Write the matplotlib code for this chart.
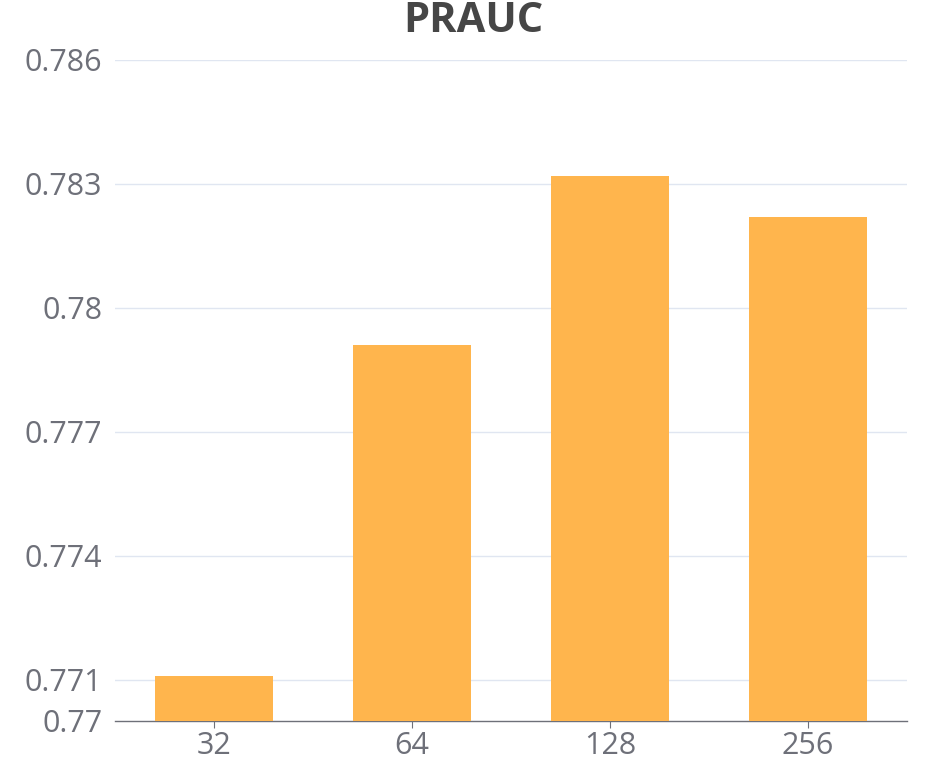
import matplotlib.pyplot as plt

# data
categories = ['32', '64', '128', '256']
prauc = [0.7711, 0.7791, 0.7832, 0.7822]
y_ticks = [0.77, 0.771, 0.774, 0.777, 0.78, 0.783, 0.786]
y_tick_labels = ['0.77', '0.771', '0.774', '0.777', '0.78', '0.783', '0.786']

plt.rcParams['font.family'] = ['Open Sans', 'DejaVu Sans']

fig = plt.figure(figsize=(9.45, 7.83), dpi=100)
ax = fig.add_axes([115 / 945, 62 / 783, 792 / 945, 661 / 783])

x = range(len(categories))
ax.bar(x, prauc, width=0.6, color='#FFB54D', zorder=3)

ax.set_xlim(-0.5, len(categories) - 0.5)
ax.set_ylim(0.77, 0.786)
ax.set_yticks(y_ticks)
ax.set_yticklabels(y_tick_labels)
ax.set_xticks(list(x))
ax.set_xticklabels(categories)

for t in y_ticks[1:]:
    ax.axhline(t, color='#E0E6F1', lw=1, zorder=1)

for s in ['top', 'right', 'left']:
    ax.spines[s].set_visible(False)
ax.spines['bottom'].set_color('#6E7079')
ax.spines['bottom'].set_linewidth(1)

ax.tick_params(axis='y', length=0, pad=9, labelsize=22, labelcolor='#6E7079')
ax.tick_params(axis='x', length=5, color='#6E7079', pad=2, labelsize=22, labelcolor='#6E7079')

fig.text(473 / 945, 1 - 21 / 783, 'PRAUC', ha='center', va='center',
         fontsize=30, fontweight='bold', color='#464646')

fig.savefig('out.png', dpi=100)
